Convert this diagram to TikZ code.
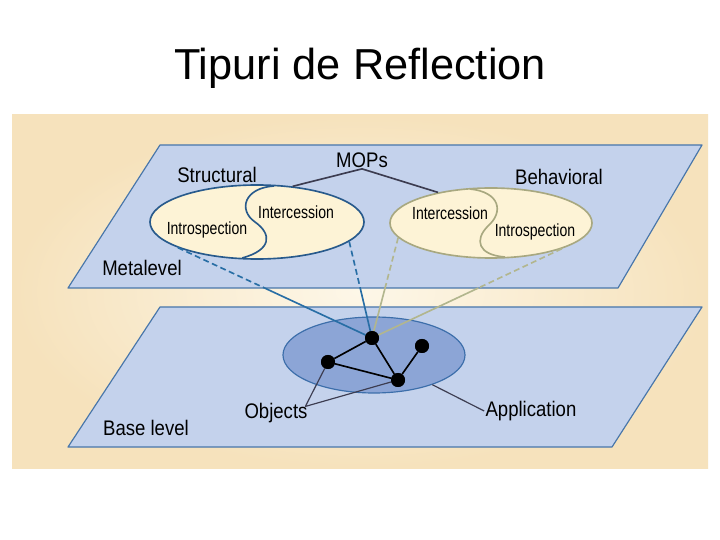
\documentclass[tikz,border=0pt]{standalone}
\usepackage{fontspec}
\setmainfont{Liberation Sans}
\newfontfamily\lblfont[FakeStretch=0.88]{Liberation Sans}
\newfontfamily\subfont[FakeStretch=0.8]{Liberation Sans}
\usetikzlibrary{shapes.geometric,intersections}

\definecolor{bgOuter}{RGB}{246,226,188}
\definecolor{bgInner}{RGB}{253,247,232}
\definecolor{planeFill}{RGB}{196,210,236}
\definecolor{planeLine}{RGB}{72,118,170}
\definecolor{ellFill}{RGB}{253,243,214}
\definecolor{structLine}{RGB}{40,90,140}
\definecolor{behavLine}{RGB}{168,168,128}
\definecolor{appFill}{RGB}{140,165,214}
\definecolor{appLine}{RGB}{60,110,170}
\definecolor{mopLine}{RGB}{60,60,80}
\definecolor{blueLink}{RGB}{40,110,165}
\definecolor{khakiLink}{RGB}{178,182,142}

\begin{document}
\begin{tikzpicture}[x=0.03cm, y=-0.03cm, line join=round]
    \tikzstyle{plane}=[draw=planeLine, fill=planeFill, line width=1pt]
    \tikzstyle{lbl}=[font=\lblfont\fontsize{18}{20}\selectfont, inner sep=1pt]
    \tikzstyle{sublbl}=[font=\subfont\fontsize{15}{17}\selectfont, inner sep=1pt]
    \tikzstyle{reflell}=[ellipse, fill=ellFill, line width=1.4pt, inner sep=0pt]
    \tikzstyle{obj}=[circle, fill=black, minimum size=0.42cm, inner sep=0pt]
    \tikzstyle{link}=[line width=1.4pt]
    \tikzstyle{dlink}=[line width=1.4pt, dash pattern=on 5pt off 3pt]

    \useasboundingbox (0,0) rectangle (720,540);
    \fill[white] (0,0) rectangle (720,540);
    \shade[inner color=bgInner, outer color=bgOuter] (12,115) rectangle (708,468);

    \node[font=\fontsize{37}{44}\selectfont] (title) at (360,68) {Tipuri de Reflection};

    % base level
    \draw[plane] (160,307) -- (702,307) -- (612,447) -- (68,447) -- cycle;
    \node[ellipse, draw=appLine, fill=appFill, line width=1pt, inner sep=0pt,
          minimum width=5.46cm, minimum height=2.28cm] (appE) at (374,355) {};
    \node[lbl] (base) at (146,428) {Base level};

    % metalevel
    \draw[plane] (160,145) -- (702,145) -- (618,288) -- (68,288) -- cycle;
    \node[lbl] (meta) at (142,268) {Metalevel};

    \node[reflell, draw=structLine, minimum width=6.42cm, minimum height=2.22cm] (structE) at (257,222) {};
    \draw[structLine, line width=1.4pt] (274,186) .. controls (244,188) and (238,210) .. (255,222)
        .. controls (272,234) and (272,250) .. (242,258);
    \node[reflell, draw=behavLine, minimum width=6.06cm, minimum height=2.1cm] (behavE) at (491,223) {};
    \draw[behavLine, line width=1.4pt] (470,189) .. controls (500,192) and (504,212) .. (488,226)
        .. controls (474,240) and (478,255) .. (505,257);

    \node[lbl] (struct) at (217,175) {Structural};
    \node[lbl] (behav) at (559,177) {Behavioral};
    \node[lbl] (mops) at (362,160) {MOPs};
    \node[sublbl] (interL) at (296,212) {Intercession};
    \node[sublbl] (introL) at (207,230) {Introspection};
    \node[sublbl] (interR) at (450,213) {Intercession};
    \node[sublbl] (introR) at (535,232) {Introspection};

    \draw[mopLine, link] (structE.45) -- (mops.south) -- (behavE.150);

    % objects of the application
    \node[obj] (objA) at (372,338) {};
    \node[obj] (objB) at (422,346) {};
    \node[obj] (objC) at (328,362) {};
    \node[obj] (objD) at (398,380) {};

    % links from the metalevel, dashed on the plane
    \path[name path=metaBot] (60,288) -- (640,288);
    \foreach \src/\cut in {structE.198/cutA, structE.-12/cutB, behavE.189/cutC, behavE.-20/cutD} {
        \path[name path=tmp] (\src) -- (objA);
        \path[name intersections={of=metaBot and tmp, by=\cut}];
    }
    \draw[dlink, blueLink] (structE.198) -- (cutA);
    \draw[dlink, blueLink] (structE.-12) -- (cutB);
    \draw[dlink, khakiLink] (behavE.189) -- (cutC);
    \draw[dlink, khakiLink] (behavE.-20) -- (cutD);
    \draw[link, blueLink] (cutA) -- (objA);
    \draw[link, khakiLink] (cutC) -- (objA);
    \draw[link, blueLink] (cutB) -- (objA);
    \draw[link, khakiLink] (cutD) -- (objA);

    \draw[link] (objA) -- (objC) -- (objD) -- (objA);
    \draw[link] (objB) -- (objD);
    \foreach \n in {objA, objB, objC, objD}
        \fill (\n) circle (0.21cm);

    \node[lbl] (objs) at (276,413) {Objects};
    \node[lbl] (app) at (531,411) {Application};
    \draw[mopLine, line width=1pt] (objC) -- ([xshift=-3pt, yshift=-4pt]objs.north east) -- (objD);
    \draw[mopLine, line width=1pt] (app.west) -- (appE.-27);
\end{tikzpicture}
\end{document}
